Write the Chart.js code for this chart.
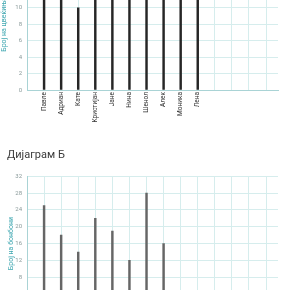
<!DOCTYPE html>
<html>
<head>
<meta charset="utf-8">
<script src="https://cdn.jsdelivr.net/npm/chart.js@4/dist/chart.umd.min.js"></script>
<style>
  html, body { margin: 0; padding: 0; background: #fff; }
  body { width: 290px; height: 290px; overflow: hidden; position: relative; }
  #chartA { position: absolute; left: 0; top: -50px; }
  #chartB { position: absolute; left: 0; top: 145px; }
</style>
</head>
<body>
<canvas id="chartA" width="290" height="200"></canvas>
<canvas id="chartB" width="290" height="220"></canvas>
<script>
// Дијаграм А - број на цвеќиња
const namesA = ['Павле', 'Адриан', 'Кате', 'Кристијан', 'Јане', 'Нина', 'Шенол', 'Алек', 'Моника', 'Лена'];
const flowers = [14, 15, 10, 13, 12, 15, 12, 14, 13, 11];
const ticksA = [0, 2, 4, 6, 8, 10, 12, 14, 16];

// Дијаграм Б - број на бонбони
const namesB = ['Павле', 'Адриан', 'Кате', 'Кристијан', 'Јане', 'Нина', 'Шенол', 'Алек'];
const candies = [25, 18, 14, 22, 19, 12, 28, 16];
const ticksB = [0, 4, 8, 12, 16, 20, 24, 28, 32];

const columns = [0, 1, 2, 3, 4, 5, 6, 7, 8, 9, 10, 11, 12, 13, 14];

const fontFam = "'Liberation Sans Narrow', 'Roboto', sans-serif";
const gridCol = '#d6eded';
const axisCol = '#a9d3d5';
const teal = '#3fa7b1';

function makeChart(id, names, values, yTicks, color, yTitle, title, sizes) {
    const points = values.map((v, i) => ({ x: i + 1, y: v }));

    const config = {
        type: 'bar',
        data: {
            datasets: [{
                data: points,
                backgroundColor: color,
                borderWidth: 0,
                barThickness: 1.8,
            }]
        },
        options: {
            responsive: false,
            animation: false,
            layout: { padding: sizes.padding },
            plugins: {
                legend: { display: false },
                tooltip: { enabled: false },
                title: {
                    display: !!title,
                    text: title,
                    align: 'start',
                    color: '#3a3a3a',
                    font: { family: fontFam, size: 11, weight: 'normal' },
                    padding: { top: 4, bottom: sizes.titleGap || 0 },
                }
            },
            scales: {
                x: {
                    type: 'linear',
                    offset: false,
                    min: 0,
                    max: 14.7,
                    afterBuildTicks: s => { s.ticks = columns.map(v => ({ value: v })); },
                    afterFit: s => { s.height = sizes.xHeight; },
                    ticks: {
                        autoSkip: false,
                        maxRotation: 90,
                        minRotation: 90,
                        padding: 2,
                        color: '#333',
                        font: { family: fontFam, size: 6.5 },
                        callback: v => names[v - 1] || '',
                    },
                    grid: { color: gridCol, lineWidth: 1, drawTicks: false, offset: false },
                    border: { color: axisCol },
                },
                y: {
                    min: yTicks[0],
                    max: yTicks[yTicks.length - 1],
                    afterBuildTicks: s => { s.ticks = yTicks.map(v => ({ value: v })); },
                    afterFit: s => { s.width = sizes.yWidth; },
                    ticks: {
                        color: '#8a9a9a',
                        padding: 5,
                        font: { family: fontFam, size: 6 },
                    },
                    grid: { color: gridCol, lineWidth: 1, drawTicks: false },
                    border: { color: axisCol },
                    title: {
                        display: true,
                        text: yTitle,
                        color: teal,
                        padding: 0,
                        font: { family: fontFam, size: 7 },
                    }
                }
            }
        }
    };

    return new Chart(document.getElementById(id), config);
}

makeChart('chartA', namesA, flowers, ticksA, '#262626', 'Број на цвеќиња', '',
    { padding: { top: 4, left: 0, right: 12, bottom: 0 }, xHeight: 60, yWidth: 27 });

makeChart('chartB', namesB, candies, ticksB, '#666666', 'Број на бонбони', 'Дијаграм Б',
    { padding: { top: 0, left: 7, right: 12, bottom: 0 }, xHeight: 54, yWidth: 20, titleGap: 14 });
</script>
</body>
</html>
